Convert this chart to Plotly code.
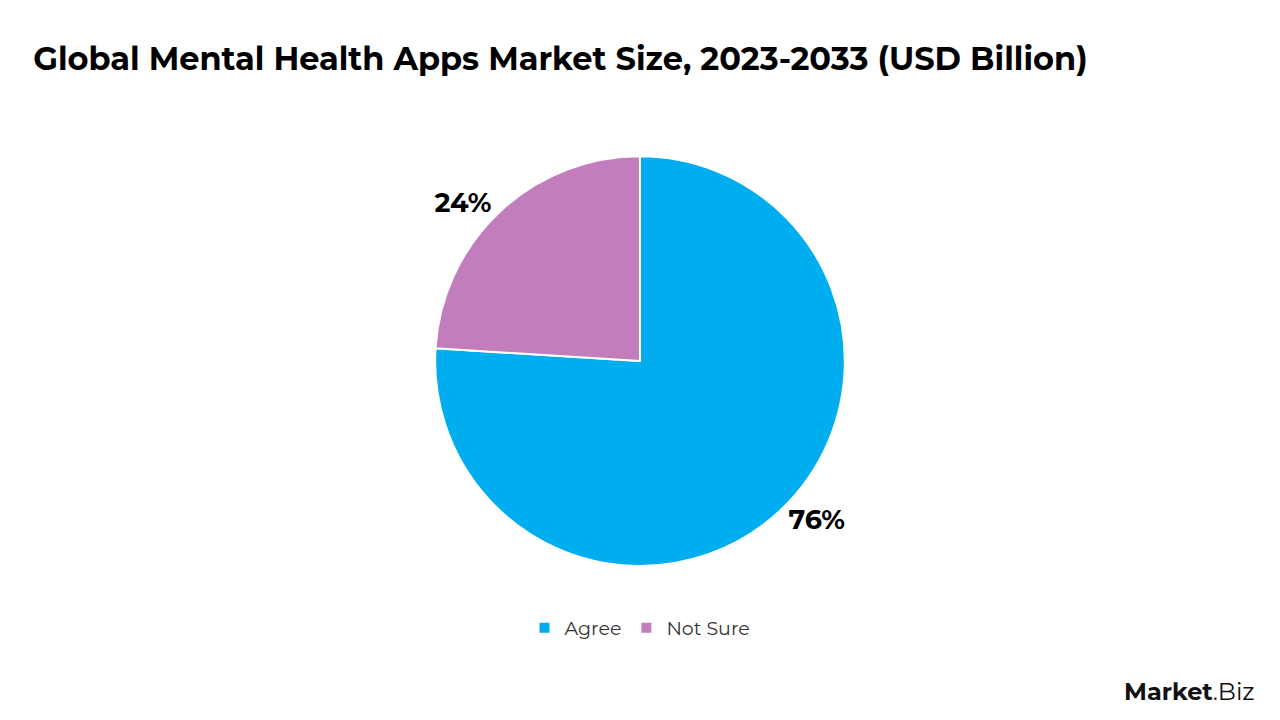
import plotly.graph_objects as go

categories = ["Agree", "Not Sure"]
values = [76, 24]
colors = ["#00AEEF", "#C27DBC"]
title_text = "Global Mental Health Apps Market Size, 2023-2033 (USD Billion)"

FONT = "Montserrat, Lato, Open Sans, sans-serif"

fig = go.Figure(go.Pie(
    labels=categories,
    values=values,
    sort=False,
    direction="clockwise",
    rotation=0,
    marker=dict(colors=colors, line=dict(color="white", width=2)),
    textinfo="percent",
    texttemplate="%{percent:.0%}",
    textposition="outside",
    textfont=dict(family=FONT, size=27, color="black", weight="bold"),
    domain=dict(x=[0.2, 0.8], y=[0.214, 0.783]),
    hole=0,
))

fig.update_layout(
    width=1280, height=720,
    paper_bgcolor="white", plot_bgcolor="white",
    margin=dict(l=0, r=0, t=0, b=0),
    title=dict(text=f"<b>{title_text}</b>", x=0.026, xanchor="left", y=0.918, yanchor="middle",
               font=dict(family=FONT, size=32, color="black")),
    showlegend=True,
    legend=dict(orientation="h", x=0.5, xanchor="center", y=0.128, yanchor="middle",
                font=dict(family=FONT, size=19, color="#333333"),
                itemsizing="constant"),
    annotations=[dict(text="<b>Market</b>.Biz", x=0.982, y=0.04, xref="paper", yref="paper",
                      xanchor="right", yanchor="middle", showarrow=False,
                      font=dict(family=FONT, size=24, color="#111111"))],
)

fig.write_html("out.html")
